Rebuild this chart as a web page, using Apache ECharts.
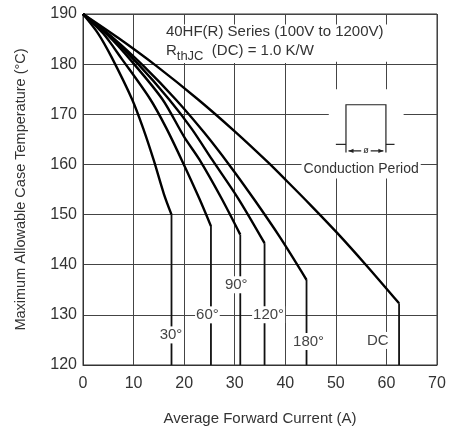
<!DOCTYPE html>
<html>
<head>
<meta charset="utf-8">
<script src="https://cdn.jsdelivr.net/npm/echarts@6/dist/echarts.min.js"></script>
<style>html,body{margin:0;padding:0;background:#fff;}#c{width:450px;height:439px;}</style>
</head>
<body>
<div id="c"></div>
<script>
// ---- data (x = average forward current A, y = case temperature °C) ----
const curveNames = ['30°', '60°', '90°', '120°', '180°', 'DC'];
const curve30  = [[0,190],[3,186.1],[5.7,181.3],[9.7,173],[12,166.9],[14,160.8],[16,154.1],[17.5,150]];
const curve60  = [[0,190],[4,186.1],[7.7,181],[13.3,173],[16.5,167.2],[19.7,160.5],[23,153.2],[25.3,147.7]];
const curve90  = [[0,190],[5,185.7],[9.6,180.6],[15.7,173],[20,165.5],[23,161],[27.3,153.4],[31.1,146]];
const curve120 = [[0,190],[5.5,185.4],[11,179.9],[17,173],[21.5,167.1],[25.5,161],[30.7,153.2],[35.9,144.3]];
const curve180 = [[0,190],[6,185.2],[12,179.6],[18.3,173],[24,166.3],[29,159.8],[34,152.8],[39,145.4],[44.2,137]];
const curveDC  = [[0,190],[7,185.2],[14.3,179.8],[22.7,173],[30,166.6],[36.5,160.5],[40.3,156.7],[45,151.9],[50.3,146.3],[56,139.9],[62.5,132.3]];
const curves = [curve30, curve60, curve90, curve120, curve180, curveDC];
const xTicks = [0, 10, 20, 30, 40, 50, 60, 70];
const yTicks = [120, 130, 140, 150, 160, 170, 180, 190];
// label anchor positions (data coords)
const labelPos = [[17.4,126],[24.6,130],[30.3,136],[36.7,130],[44.6,124.7],[58.3,124.9]];
// conduction period pulse sketch (data coords)
const pulseLeftBase  = [[50,164],[52,164]];
const pulseBody      = [[52,162.4],[52,171.9],[59.9,171.9],[59.9,162.4]];
const pulseRightBase = [[59.9,164],[61.6,164]];
const pulseArrow     = [[52.5,162.7],[59.4,162.7]];

const chart = echarts.init(document.getElementById('c'));
const xMin = xTicks[0], xMax = xTicks[xTicks.length-1];
const yMin = yTicks[0], yMax = yTicks[yTicks.length-1];
const font = 'Liberation Sans, Arial, sans-serif';

const series = [];
curves.forEach((c, i) => {
  series.push({
    type: 'line', name: curveNames[i], data: c, symbol: 'none', smooth: 0.3,
    lineStyle: { color: '#000', width: 2.4 }, z: 5, animation: false
  });
  const last = c[c.length-1];
  series.push({
    type: 'line', name: curveNames[i] + ' drop', data: [last, [last[0], yMin]], symbol: 'none',
    lineStyle: { color: '#111', width: 1.8 }, z: 5, animation: false
  });
});

chart.setOption({
  animation: false,
  backgroundColor: '#fff',
  grid: { left: 83, right: 13, top: 14, bottom: 74, show: true, borderColor: '#333', borderWidth: 1 },
  xAxis: {
    type: 'value', min: xMin, max: xMax, interval: 10,
    name: 'Average Forward Current (A)', nameLocation: 'middle', nameGap: 46,
    nameTextStyle: { fontFamily: font, fontSize: 15, color: '#333' },
    axisLine: { lineStyle: { color: '#333', width: 1 } },
    axisTick: { show: false },
    axisLabel: { fontFamily: font, fontSize: 16, color: '#333', margin: 11 },
    splitLine: { show: true, lineStyle: { color: '#444', width: 1 } }
  },
  yAxis: {
    type: 'value', min: yMin, max: yMax, interval: 10,
    name: 'Maximum Allowable Case Temperature (°C)', nameLocation: 'middle', nameGap: 55,
    nameTextStyle: { fontFamily: font, fontSize: 14.5, color: '#333' },
    axisLine: { show: true, lineStyle: { color: '#333', width: 1 } },
    axisTick: { show: false },
    axisLabel: { fontFamily: font, fontSize: 16, color: '#333', margin: 6 },
    splitLine: { show: true, lineStyle: { color: '#444', width: 1 } }
  },
  series: series
});

function px(p) { return chart.convertToPixel({ gridIndex: 0 }, p); }
function pts(arr) { return arr.map(px); }

const g = [];
// white box behind title
const t1 = px([15.4, 187.9]), t2 = px([69.6, 180.5]);
g.push({ type: 'rect', shape: { x: t1[0], y: t1[1], width: t2[0]-t1[0], height: t2[1]-t1[1] }, style: { fill: '#fff' }, z: 10 });
// white box behind pulse sketch
const b1 = px([48.6, 175]), b2 = px([63.4, 157.2]);
g.push({ type: 'rect', shape: { x: b1[0], y: b1[1], width: b2[0]-b1[0], height: b2[1]-b1[1] }, style: { fill: '#fff' }, z: 10 });

const tp = px([16.4, 186.4]);
g.push({ type: 'text', x: tp[0], y: tp[1], z: 12,
  style: { text: '40HF(R) Series (100V to 1200V)', font: '15px ' + font, fill: '#333', verticalAlign: 'middle', align: 'left' } });
const rp = px([16.4, 182.2]);
g.push({ type: 'text', x: rp[0], y: rp[1], z: 12,
  style: { text: '{r|R}{s|thJC}{n|  (DC) = 1.0 K/W}', fill: '#333', verticalAlign: 'middle', align: 'left',
    backgroundColor: '#fff', padding: [0, 2, 0, 0],
    rich: { r: { font: '15px ' + font, fill: '#333', verticalAlign: 'top', lineHeight: 20 },
            s: { font: '13px ' + font, fill: '#333', verticalAlign: 'bottom', padding: [8, 0, 0, 0], lineHeight: 20 },
            n: { font: '15px ' + font, fill: '#333', verticalAlign: 'top', lineHeight: 20 } } } });

// pulse sketch
[pulseLeftBase, pulseBody, pulseRightBase, pulseArrow].forEach(a => {
  g.push({ type: 'polyline', shape: { points: pts(a) }, style: { stroke: '#222', lineWidth: 1.2, fill: null }, z: 12 });
});
const a0 = px(pulseArrow[0]), a1 = px(pulseArrow[1]);
g.push({ type: 'polygon', shape: { points: [[a0[0], a0[1]], [a0[0]+5, a0[1]-2.2], [a0[0]+5, a0[1]+2.2]] }, style: { fill: '#222' }, z: 12 });
g.push({ type: 'polygon', shape: { points: [[a1[0], a1[1]], [a1[0]-5, a1[1]-2.2], [a1[0]-5, a1[1]+2.2]] }, style: { fill: '#222' }, z: 12 });
const am = px([(pulseArrow[0][0]+pulseArrow[1][0])/2, pulseArrow[0][1]]);
g.push({ type: 'text', x: am[0], y: am[1], z: 13,
  style: { text: 'ø', font: '9px ' + font, fill: '#222', align: 'center', verticalAlign: 'middle', backgroundColor: '#fff', padding: [0, 2] } });
const cp = px([55, 159.1]);
g.push({ type: 'text', x: cp[0], y: cp[1], z: 12,
  style: { text: 'Conduction Period', font: '14px ' + font, fill: '#333', align: 'center', verticalAlign: 'middle', backgroundColor: '#fff', padding: [1, 2] } });

// curve labels
curveNames.forEach((n, i) => {
  const p = px(labelPos[i]);
  g.push({ type: 'text', x: p[0], y: p[1], z: 12,
    style: { text: n, font: '15px ' + font, fill: '#444', align: 'center', verticalAlign: 'middle', backgroundColor: '#fff', padding: [1, 1] } });
});

chart.setOption({ graphic: g });
</script>
</body>
</html>
